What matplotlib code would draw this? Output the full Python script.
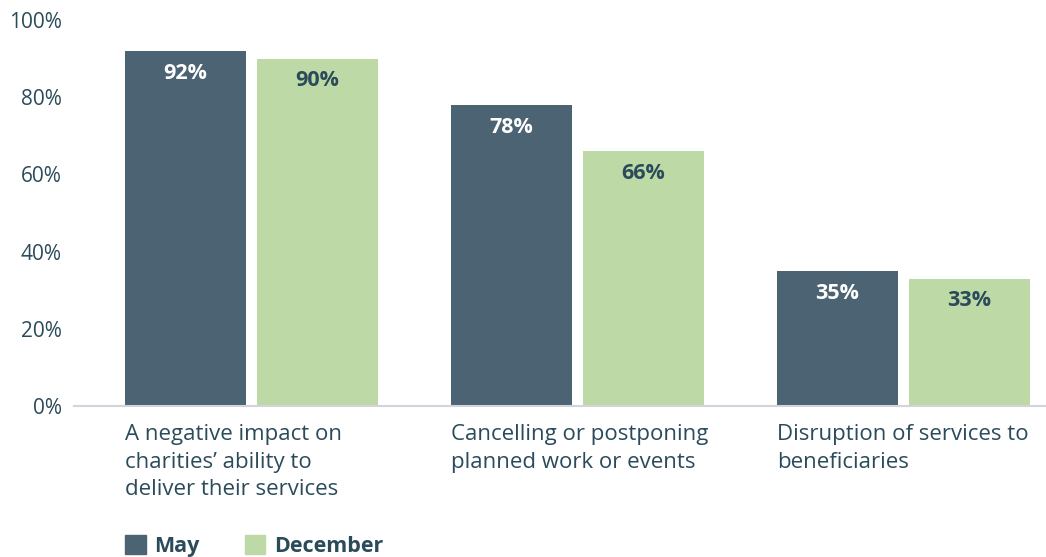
import matplotlib.pyplot as plt
import matplotlib.patches as mpatches
import numpy as np

categories = ["A negative impact on\ncharities\u2019 ability to\ndeliver their services",
              "Cancelling or postponing\nplanned work or events",
              "Disruption of services to\nbeneficiaries"]
may_vals = [92, 78, 35]
dec_vals = [90, 66, 33]
series_names = ["May", "December"]
y_ticks = [0, 20, 40, 60, 80, 100]

may_color = "#4b6373"
dec_color = "#bddaa6"
text_color = "#2b4b5b"

plt.rcParams['font.family'] = ['Open Sans', 'DejaVu Sans']

fig = plt.figure(figsize=(10.46, 5.57), dpi=100)
ax = fig.add_axes([74 / 1046, 151 / 557, 1 - 74 / 1046, (537 - 151) / 557])

x = np.arange(len(categories))
w = 121 / 326
gap = 11 / 326
off = (w + gap) / 2

b1 = ax.bar(x - off, may_vals, w, color=may_color)
b2 = ax.bar(x + off, dec_vals, w, color=dec_color)

for rect, v in zip(b1, may_vals):
    ax.annotate(f"{v}%", (rect.get_x() + rect.get_width() / 2, v), xytext=(0, -16),
                textcoords="offset points", ha="center", va="center",
                color="white", fontsize=15.5, fontweight="bold")
for rect, v in zip(b2, dec_vals):
    ax.annotate(f"{v}%", (rect.get_x() + rect.get_width() / 2, v), xytext=(0, -16),
                textcoords="offset points", ha="center", va="center",
                color=text_color, fontsize=15.5, fontweight="bold")

ax.set_xlim(-0.544, 2.437)
ax.set_ylim(0, 100)
ax.set_yticks(y_ticks)
ax.set_yticklabels([f"{t}%" for t in y_ticks], fontsize=15, color=text_color)
ax.tick_params(axis="y", length=0, pad=9)
ax.set_xticks([])
for s in ["top", "right", "left"]:
    ax.spines[s].set_visible(False)
ax.spines["bottom"].set_color("#d3d3de")
ax.spines["bottom"].set_linewidth(1.5)

# category labels, left aligned at the May bar
for i, lab in enumerate(categories):
    ax.annotate(lab, (x[i] - off - w / 2, 0), xytext=(0, -13),
                textcoords="offset points", ha="left", va="top",
                fontsize=16, color=text_color, linespacing=1.42)

handles = [mpatches.Patch(color=may_color, label=series_names[0]),
           mpatches.Patch(color=dec_color, label=series_names[1])]
leg = fig.legend(handles=handles, loc="center left", bbox_to_anchor=(106 / 1046, 11 / 557),
                 ncol=2, frameon=False, handlelength=0.95, handleheight=0.95,
                 handletextpad=0.4, columnspacing=2.1, prop={"size": 15.5, "weight": "bold"})
for t in leg.get_texts():
    t.set_color(text_color)

fig.savefig("out.png", dpi=100)
